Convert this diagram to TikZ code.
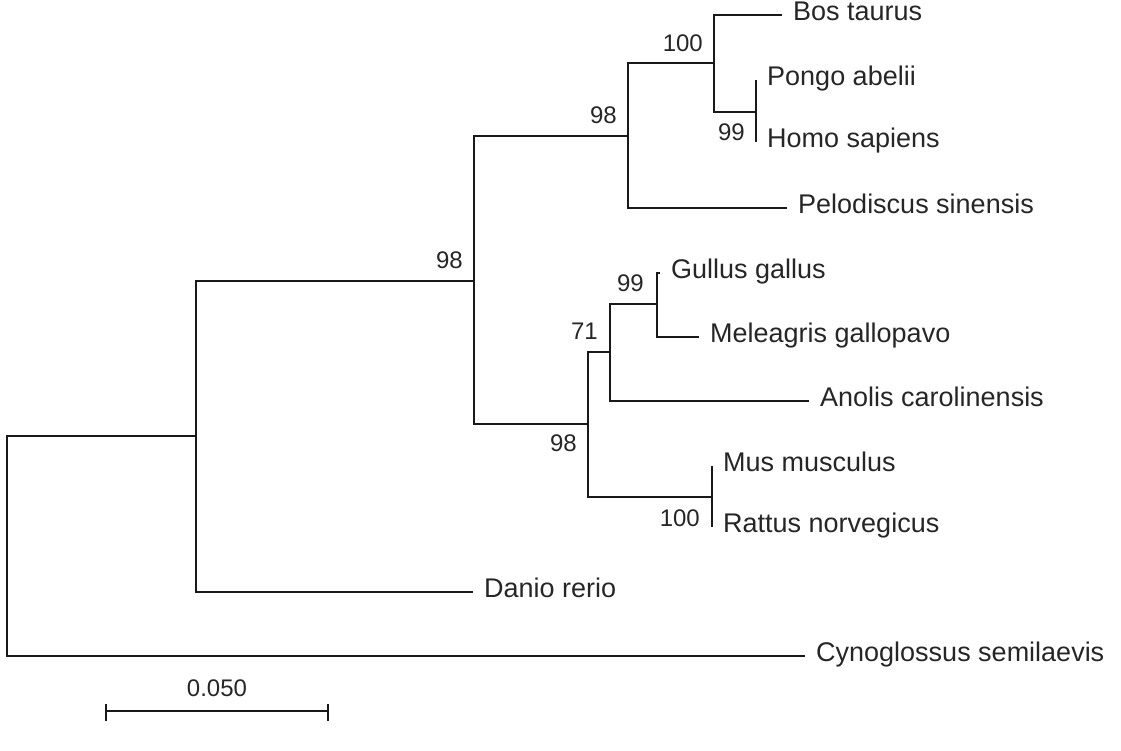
\documentclass[tikz,border=0pt]{standalone}
\usepackage{fontspec}
\setmainfont{Liberation Sans}
\usetikzlibrary{calc}

\begin{document}
\begin{tikzpicture}[x=1pt,y=-1pt,
  branch/.style={line width=1.7pt,black!90},
  taxon/.style={anchor=west,inner xsep=11pt,inner ysep=0pt,text height=19pt,text depth=8pt,font=\fontsize{27}{30}\selectfont,text=black!85},
  supup/.style={anchor=south east,inner sep=0pt,font=\fontsize{24}{28}\selectfont,text=black!85},
  supdown/.style={anchor=north east,inner sep=0pt,font=\fontsize{24}{28}\selectfont,text=black!85}]
  \useasboundingbox (0,0) rectangle (1121,750);
  \coordinate (root) at (7,546);
  \coordinate (nA) at (196,436);
  \coordinate (nB) at (474,281);
  \coordinate (nC) at (628,136);
  \coordinate (nD) at (714,63);
  \coordinate (nE) at (756,112);
  \coordinate (nF) at (588,424);
  \coordinate (nG) at (610,352);
  \coordinate (nH) at (657,304);
  \coordinate (nI) at (712,497);
  \node[taxon] (bos) at (782,15) {Bos taurus};
  \node[taxon] (pongo) at (756,80) {Pongo abelii};
  \node[taxon] (homo) at (756,142) {Homo sapiens};
  \node[taxon] (pelo) at (787,208) {Pelodiscus sinensis};
  \node[taxon] (gallus) at (660,273) {Gullus gallus};
  \node[taxon] (melea) at (699,337) {Meleagris gallopavo};
  \node[taxon] (anolis) at (809,401) {Anolis carolinensis};
  \node[taxon] (mus) at (712,466) {Mus musculus};
  \node[taxon] (rattus) at (712,527) {Rattus norvegicus};
  \node[taxon] (danio) at (473,592) {Danio rerio};
  \node[taxon] (cyno) at (805,656) {Cynoglossus semilaevis};
  \draw[branch] (root) |- (nA) (root) |- (cyno.west);
  \draw[branch] (nA) |- (nB) (nA) |- (danio.west);
  \draw[branch] (nB) |- (nC) (nB) |- (nF);
  \draw[branch] (nC) |- (nD) (nC) |- (pelo.west);
  \draw[branch] (nD) |- (bos.west) (nD) |- (nE);
  \draw[branch] (nE) |- (pongo.west) (nE) |- (homo.west);
  \draw[branch] (nF) |- (nG) (nF) |- (nI);
  \draw[branch] (nG) |- (nH) (nG) |- (anolis.west);
  \draw[branch] (nH) |- (gallus.west) (nH) |- (melea.west);
  \draw[branch] (nI) |- (mus.west) (nI) |- (rattus.west);
  \node[supup] (sB) at ([shift={(-11pt,12pt)}]nB) {98};
  \node[supup] (sC) at ([shift={(-11pt,12pt)}]nC) {98};
  \node[supup] (sD) at ([shift={(-11pt,11pt)}]nD) {100};
  \node[supup] (sG) at ([shift={(-12pt,12pt)}]nG) {71};
  \node[supup] (sH) at ([shift={(-13pt,12pt)}]nH) {99};
  \node[supdown] (sE) at ([shift={(-11pt,-12pt)}]nE) {99};
  \node[supdown] (sF) at ([shift={(-11pt,-11pt)}]nF) {98};
  \node[supdown] (sI) at ([shift={(-12pt,-13pt)}]nI) {100};
  \coordinate (barL) at (106,711);
  \coordinate (barR) at (328,711);
  \draw[branch] (barL) -- (barR);
  \draw[branch] (barL) ++(0,-7) -- ++(0,17);
  \draw[branch] (barR) ++(0,-7) -- ++(0,17);
  \node[anchor=south,inner sep=0pt,font=\fontsize{24}{28}\selectfont,text=black!85] (scalelab) at ([yshift=14pt]$(barL)!0.5!(barR)$) {0.050};
\end{tikzpicture}
\end{document}
